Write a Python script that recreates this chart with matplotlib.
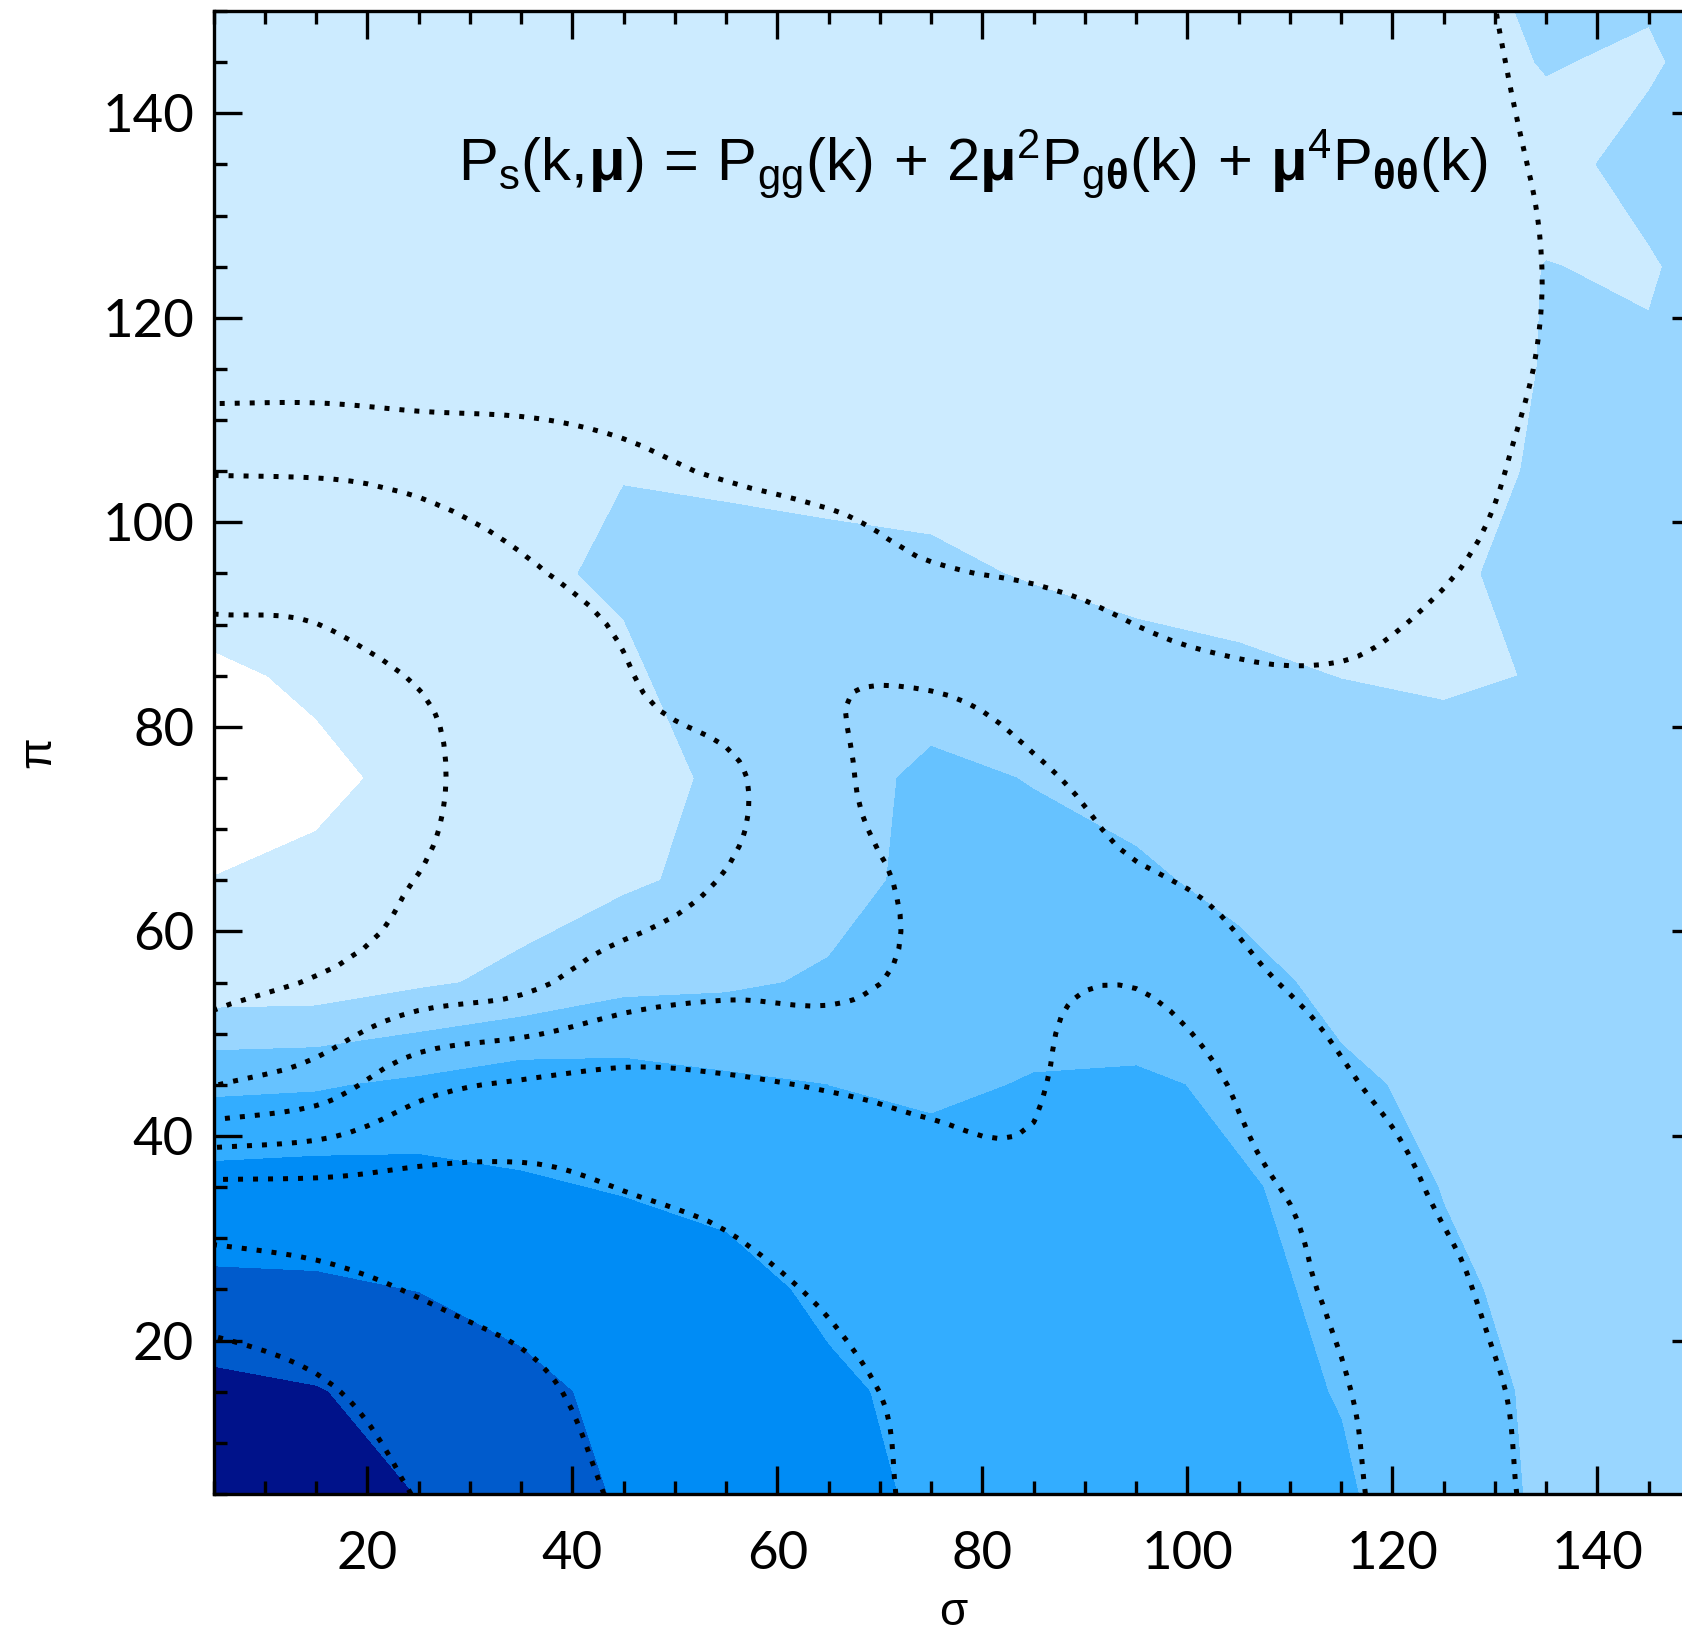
import numpy as np
import matplotlib
matplotlib.use("Agg")
import matplotlib.pyplot as plt
from matplotlib.ticker import MultipleLocator

# grid of pair separations (Mpc/h): sigma across, pi along the line of sight
sigma = np.arange(5, 156, 10)
pi_los = np.arange(5, 156, 10)

# measured correlation function, in contour-level units (rows: pi = 5..155)
xi_measured = np.array([
    [7.50, 7.30, 6.45, 5.90, 5.42, 5.00, 4.70, 4.40, 4.10, 3.90, 3.75, 3.58, 3.10, 2.32, 2.10, 2.00],
    [6.76, 6.55, 6.10, 5.75, 5.25, 4.90, 4.60, 4.35, 4.05, 3.85, 3.70, 3.47, 2.95, 2.30, 2.05, 1.95],
    [5.67, 5.61, 5.48, 5.17, 4.95, 4.70, 4.38, 4.15, 3.90, 3.72, 3.60, 3.42, 2.75, 2.10, 1.95, 1.90],
    [4.90, 4.98, 4.88, 4.58, 4.45, 4.34, 3.70, 3.65, 3.75, 3.72, 3.55, 3.34, 2.45, 2.00, 1.85, 1.80],
    [3.30, 3.39, 3.69, 4.07, 3.94, 3.67, 3.498, 3.44, 3.52, 3.60, 3.39, 2.70, 2.25, 1.95, 1.80, 1.75],
    [0.90, 0.94, 1.36, 1.70, 2.25, 2.37, 2.60, 3.00, 3.35, 3.06, 2.88, 2.20, 2.00, 1.90, 1.80, 1.75],
    [0.52, 0.73, 0.95, 1.10, 1.37, 1.73, 2.20, 2.73, 2.90, 2.70, 2.19, 2.00, 1.90, 1.85, 1.85, 1.80],
    [0.00, 0.25, 0.78, 1.10, 1.30, 1.59, 2.00, 2.75, 2.45, 2.09, 1.90, 1.80, 1.75, 1.80, 1.90, 1.85],
    [0.30, 0.68, 0.85, 1.20, 1.35, 1.95, 1.90, 1.94, 1.90, 1.70, 1.60, 1.49, 1.42, 1.53, 1.95, 1.90],
    [1.13, 1.00, 1.00, 1.35, 1.62, 1.75, 1.70, 1.62, 1.45, 1.34, 1.29, 1.20, 1.30, 1.85, 2.00, 2.00],
    [1.10, 1.05, 1.10, 1.20, 1.48, 1.39, 1.32, 1.30, 1.20, 1.15, 1.10, 1.05, 1.20, 1.60, 1.80, 2.00],
    [1.05, 1.00, 1.00, 1.05, 1.10, 1.10, 1.10, 1.05, 1.00, 1.00, 1.00, 1.00, 1.15, 1.535, 1.63, 2.00],
    [1.00, 1.00, 1.00, 1.00, 1.00, 1.00, 1.00, 1.00, 1.00, 1.00, 1.00, 1.00, 1.10, 1.52, 1.40, 2.14],
    [1.00, 1.00, 1.00, 1.00, 1.00, 1.00, 1.00, 1.00, 1.00, 1.00, 1.00, 1.00, 1.05, 1.17, 1.85, 2.30],
    [1.00, 1.00, 1.00, 1.00, 1.00, 1.00, 1.00, 1.00, 1.00, 1.00, 1.00, 1.00, 1.10, 1.55, 1.36, 2.18],
    [1.00, 1.00, 1.00, 1.00, 1.00, 1.00, 1.00, 1.00, 1.00, 1.00, 1.00, 1.00, 1.10, 1.90, 1.76, 2.00],
])

# linear-theory model P_s(k, mu), same units and grid
xi_model = np.array([
    [7.90, 7.40, 6.44, 6.00, 5.40, 5.10, 4.80, 4.35, 4.05, 3.90, 3.75, 3.60, 3.05, 2.32, 2.10, 2.00],
    [7.12, 6.65, 6.00, 5.70, 5.19, 4.90, 4.65, 4.33, 3.95, 3.90, 3.75, 3.54, 3.00, 2.22, 2.00, 1.95],
    [5.93, 5.74, 5.45, 5.20, 4.90, 4.70, 4.42, 4.10, 3.80, 3.90, 3.72, 3.40, 2.75, 1.90, 1.85, 1.85],
    [4.70, 4.70, 4.75, 4.70, 4.48, 4.30, 4.00, 3.75, 3.65, 3.95, 3.65, 3.20, 2.35, 1.80, 1.80, 1.80],
    [1.48, 2.00, 3.20, 3.60, 3.75, 3.62, 3.45, 3.35, 3.42, 4.20, 3.40, 2.62, 2.07, 1.75, 1.75, 1.75],
    [0.30, 0.55, 1.00, 1.30, 2.00, 2.30, 2.30, 2.75, 3.30, 3.45, 2.70, 2.25, 1.95, 1.75, 1.75, 1.75],
    [0.05, 0.20, 0.52, 1.05, 1.06, 1.55, 2.20, 2.64, 2.85, 2.60, 2.30, 2.00, 1.85, 1.75, 1.75, 1.80],
    [0.00, 0.05, 0.35, 0.95, 1.20, 1.35, 2.30, 2.90, 2.60, 2.20, 1.90, 1.80, 1.75, 1.70, 1.75, 1.85],
    [0.20, 0.25, 0.55, 1.00, 1.45, 1.95, 2.42, 2.40, 2.10, 1.70, 1.55, 1.53, 1.62, 1.70, 1.75, 1.85],
    [0.75, 0.80, 1.20, 1.45, 1.62, 1.75, 1.75, 1.55, 1.45, 1.35, 1.30, 1.35, 1.48, 1.65, 1.75, 1.85],
    [1.52, 1.53, 1.55, 1.57, 1.54, 1.48, 1.41, 1.35, 1.30, 1.30, 1.25, 1.25, 1.35, 1.60, 1.75, 1.85],
    [1.44, 1.44, 1.43, 1.42, 1.41, 1.40, 1.35, 1.30, 1.28, 1.27, 1.25, 1.25, 1.30, 1.53, 1.75, 1.85],
    [1.35, 1.35, 1.35, 1.35, 1.35, 1.33, 1.32, 1.30, 1.30, 1.30, 1.30, 1.30, 1.30, 1.51, 1.75, 1.85],
    [1.30, 1.30, 1.30, 1.30, 1.30, 1.30, 1.30, 1.30, 1.30, 1.30, 1.30, 1.30, 1.30, 1.55, 1.80, 1.90],
    [1.25, 1.25, 1.25, 1.25, 1.25, 1.25, 1.25, 1.25, 1.25, 1.25, 1.25, 1.25, 1.25, 1.67, 1.85, 1.90],
    [1.20, 1.20, 1.20, 1.20, 1.20, 1.20, 1.20, 1.20, 1.20, 1.20, 1.20, 1.20, 1.20, 1.90, 2.00, 2.00],
])

contour_levels = [0.5, 1.5, 2.5, 3.5, 4.5, 5.5, 6.5]
band_colors = ["#FFFFFF", "#CCEBFF", "#99D6FF", "#66C2FF",
               "#33ADFF", "#008CF5", "#005BCC", "#00128A"]

formula = (r"$\mathrm{P_s(k,\!\mathbf{\mu})\,=\,P_{gg}(k)\,+\,2\mathbf{\mu}^2P_{g\mathbf{\theta}}(k)"
           r"\,+\,\mathbf{\mu}^4P_{\mathbf{\theta\theta}}(k)}$")


def catmull_rom(z, n, axis):
    """Cubic-convolution refinement of a regular grid along one axis."""
    z = np.moveaxis(np.asarray(z, float), axis, 0)
    N = z.shape[0]
    zp = np.concatenate([2 * z[:1] - z[1:2], z, 2 * z[-1:] - z[-2:-1]], axis=0)
    t = np.linspace(0, N - 1, (N - 1) * n + 1)
    i = np.minimum(np.floor(t).astype(int), N - 2)
    f = (t - i)[:, None]
    p0, p1, p2, p3 = zp[i], zp[i + 1], zp[i + 2], zp[i + 3]
    out = 0.5 * (2 * p1 + (p2 - p0) * f + (2 * p0 - 5 * p1 + 4 * p2 - p3) * f ** 2
                 + (3 * p1 - p0 - 3 * p2 + p3) * f ** 3)
    return np.moveaxis(out, 0, axis)


plt.rcParams["mathtext.fontset"] = "custom"
plt.rcParams["mathtext.rm"] = "Liberation Sans"
plt.rcParams["mathtext.it"] = "Liberation Sans:italic"
plt.rcParams["mathtext.bf"] = "Liberation Sans:bold"
plt.rcParams["lines.dotted_pattern"] = [1.0, 2.0]
plt.rcParams["font.family"] = ["Lato", "DejaVu Sans"]

fig = plt.figure(figsize=(16.83, 16.39), dpi=100)
ax = fig.add_axes([0.1269, 0.0885, 0.8832, 0.9048])

# measured field: filled bands
ax.contourf(sigma, pi_los, xi_measured,
            levels=[-10.0] + contour_levels + [20.0], colors=band_colors)

# model field: dotted contours, drawn on a refined grid so the curves are smooth
n_ref = 6
zs = catmull_rom(catmull_rom(xi_model, n_ref, 0), n_ref, 1)
xs = np.linspace(sigma[0], sigma[-1], (len(sigma) - 1) * n_ref + 1)
ys = np.linspace(pi_los[0], pi_los[-1], (len(pi_los) - 1) * n_ref + 1)
ax.contour(xs, ys, zs, levels=contour_levels, colors="black",
           linewidths=3.6, linestyles="dotted")

ax.text(79.0, 135.0, formula, ha="center", va="center", fontsize=43, color="black")

ax.set_xlim(5, 150)
ax.set_ylim(5, 150)
ax.xaxis.set_major_locator(MultipleLocator(20))
ax.yaxis.set_major_locator(MultipleLocator(20))
ax.xaxis.set_minor_locator(MultipleLocator(5))
ax.yaxis.set_minor_locator(MultipleLocator(5))
ax.tick_params(which="both", direction="in", top=True, right=True, width=2.4,
               labelsize=38, colors="black")
ax.tick_params(which="major", length=20)
ax.tick_params(which="minor", length=9.4)
ax.tick_params(axis="x", which="both", pad=27)
ax.tick_params(axis="y", which="both", pad=14)
for sp in ax.spines.values():
    sp.set_linewidth(2.4)

ax.set_xlabel("σ", fontsize=33, family=["Liberation Sans", "DejaVu Sans"])
ax.xaxis.label.set_va("center")
ax.xaxis.set_label_coords(0.4975, -0.0800)
ax.set_ylabel("π", fontsize=33, family=["Liberation Sans", "DejaVu Sans"])
ax.yaxis.label.set_va("center")
ax.yaxis.set_label_coords(-0.118, 0.5)

fig.savefig("out.png", dpi=100)
